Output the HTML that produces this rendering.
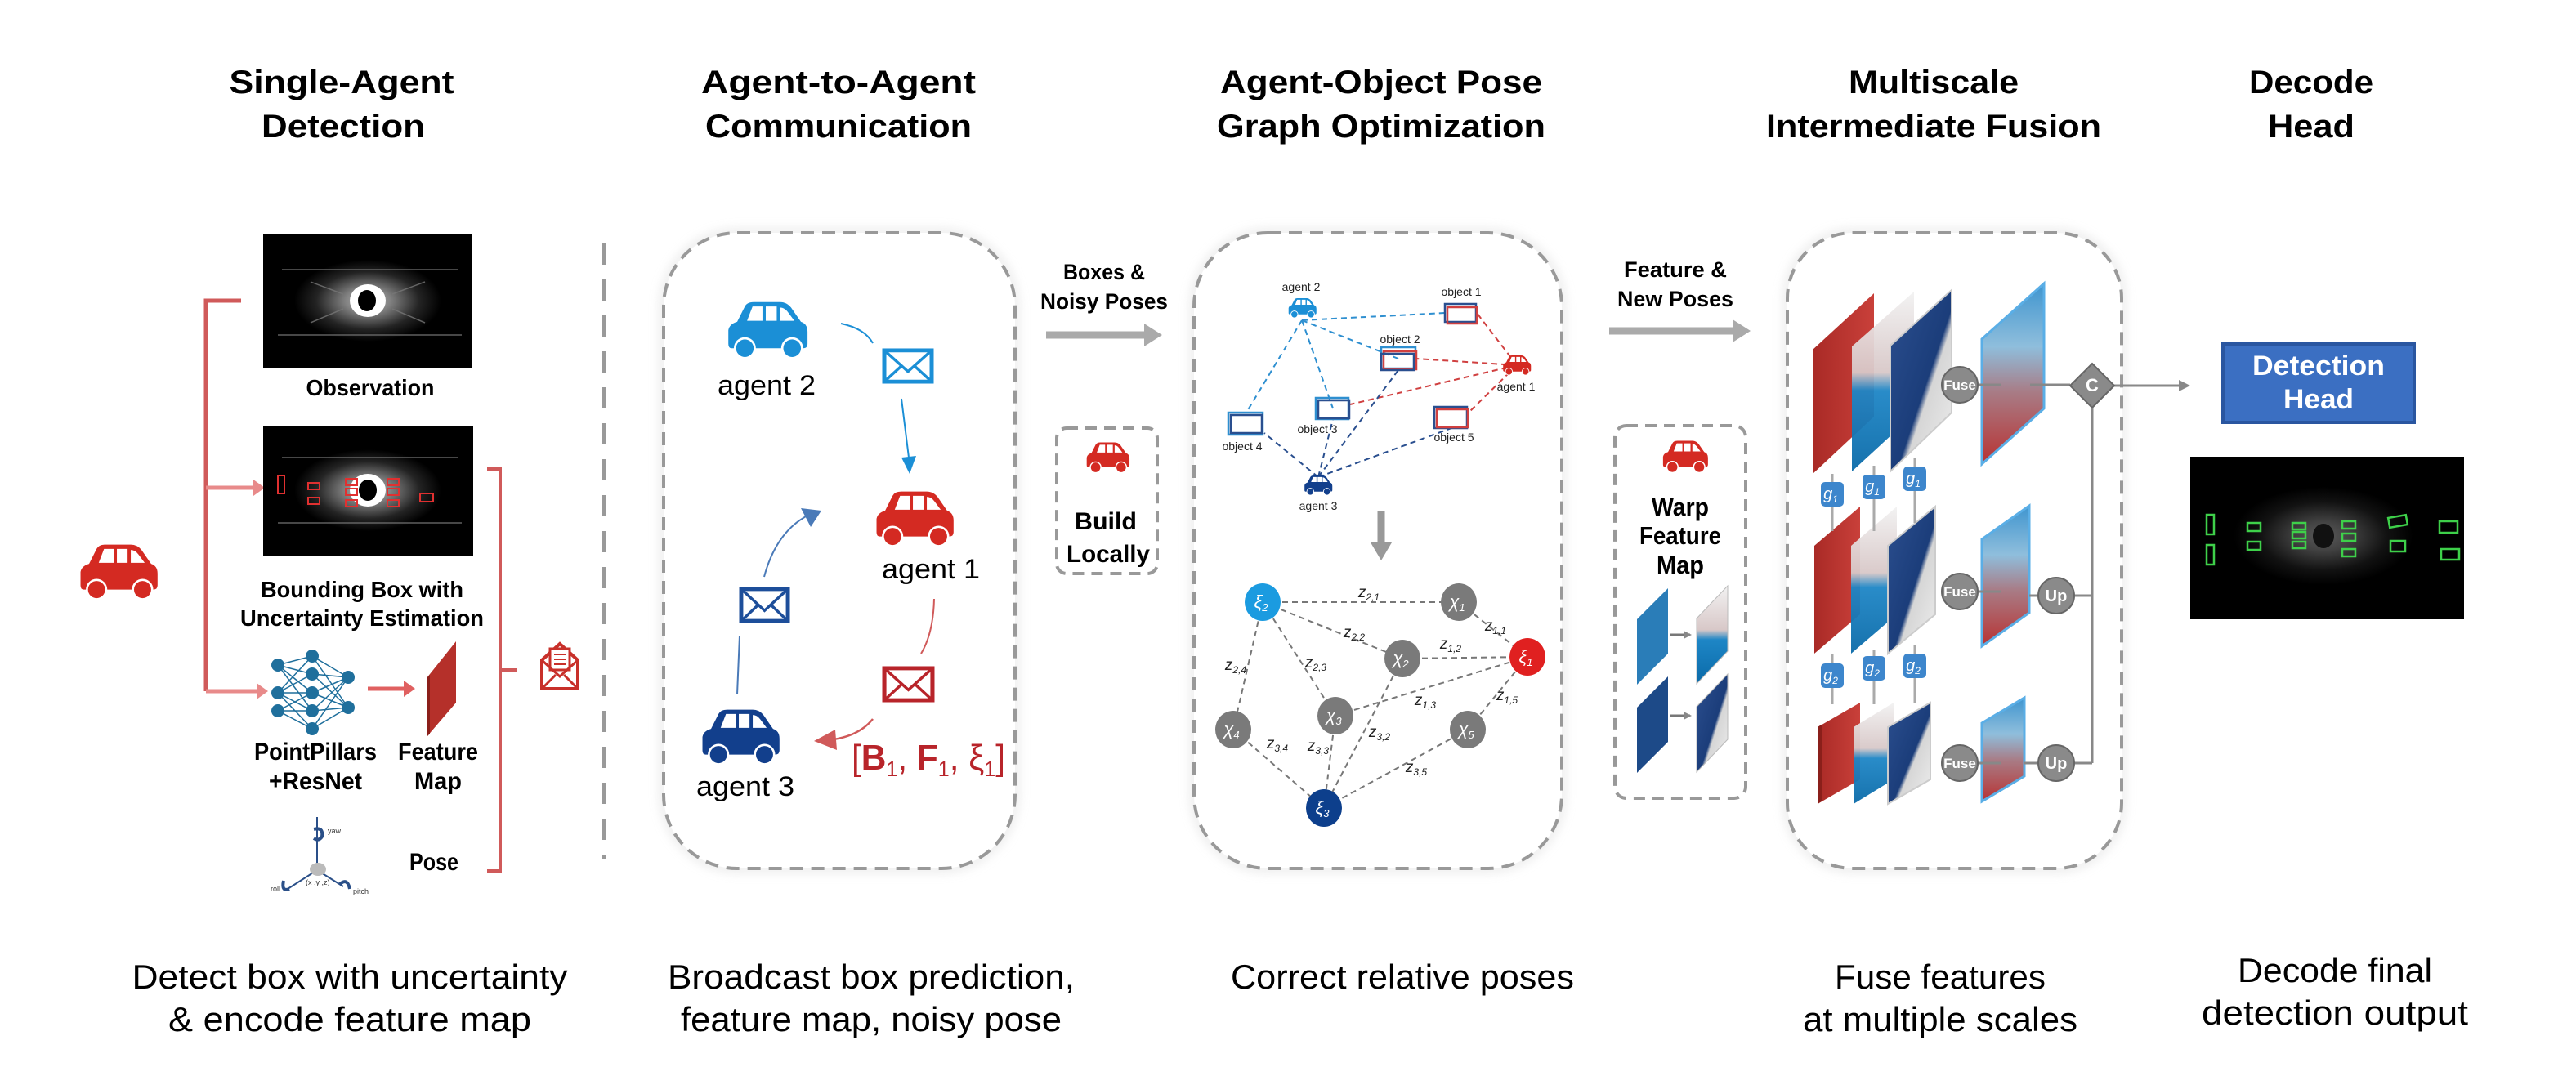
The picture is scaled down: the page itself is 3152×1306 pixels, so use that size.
<!DOCTYPE html>
<html><head><meta charset="utf-8">
<style>
html,body{margin:0;padding:0;background:#fff;}
svg{display:block;}
text{font-family:"Liberation Sans",sans-serif;}
</style></head>
<body>
<svg width="3152" height="1306" viewBox="0 0 3152 1306" xmlns="http://www.w3.org/2000/svg">
<defs>
<symbol id="car" viewBox="0 0 150 110">
 <path d="M4,80 L4,55 Q6,44 20,40 L34,12 Q38,4 50,4 L98,4 Q110,4 118,14 L136,40 Q148,44 148,58 L148,80 Q148,88 140,88 L10,88 Q4,88 4,80 Z" fill="currentColor"/>
 <path d="M38,38 L48,12 L66,12 L66,38 Z M72,12 L92,12 L92,38 L72,38 Z M98,14 Q106,14 112,22 L124,38 L98,38 Z" fill="#fff"/>
 <circle cx="34" cy="88" r="20" fill="#fff"/><circle cx="34" cy="88" r="16" fill="currentColor"/>
 <circle cx="120" cy="88" r="20" fill="#fff"/><circle cx="120" cy="88" r="16" fill="currentColor"/>
</symbol>
<symbol id="env" viewBox="0 0 64 46" preserveAspectRatio="none">
 <rect x="3" y="3" width="58" height="40" fill="#fff" stroke="currentColor" stroke-width="5"/>
 <path d="M3,3 L32,30 L61,3 M3,43 L25,22 M61,43 L39,22" fill="none" stroke="currentColor" stroke-width="3.5"/>
</symbol>
<marker id="ag" markerWidth="10" markerHeight="10" refX="8" refY="5" orient="auto" markerUnits="userSpaceOnUse"><path d="M0,0 L10,5 L0,10 Z" fill="#888"/></marker>
<linearGradient id="redg" x1="0" y1="0" x2="1" y2="0"><stop offset="0" stop-color="#a92a26"/><stop offset="1" stop-color="#c9403a"/></linearGradient>
<linearGradient id="whiteg" x1="0" y1="0" x2="0" y2="1"><stop offset="0" stop-color="#f2f2f2"/><stop offset="0.45" stop-color="#d8c8c8"/><stop offset="0.55" stop-color="#1e86c6"/><stop offset="1" stop-color="#0a6aa8"/></linearGradient>
<linearGradient id="blueg" x1="0" y1="0" x2="1" y2="1"><stop offset="0" stop-color="#2c4f8f"/><stop offset="0.55" stop-color="#1b3d7a"/><stop offset="0.6" stop-color="#d6d6d6"/><stop offset="1" stop-color="#eeeeee"/></linearGradient>
<linearGradient id="outg" x1="0" y1="0" x2="0" y2="1"><stop offset="0" stop-color="#3f95cf"/><stop offset="0.35" stop-color="#8fbedc"/><stop offset="0.6" stop-color="#a87c86"/><stop offset="1" stop-color="#b83232"/></linearGradient>
<radialGradient id="lid" cx="0.5" cy="0.5" r="0.5"><stop offset="0" stop-color="#fff"/><stop offset="0.3" stop-color="#bbb"/><stop offset="0.7" stop-color="#333"/><stop offset="1" stop-color="#000"/></radialGradient>
<filter id="sh" x="-5%" y="-5%" width="110%" height="110%"><feGaussianBlur stdDeviation="6"/></filter>
</defs>

<g font-size="40" font-weight="bold" text-anchor="middle" fill="#000">
 <text x="418" y="114" textLength="275" lengthAdjust="spacingAndGlyphs">Single-Agent</text>
 <text x="420" y="168" textLength="200" lengthAdjust="spacingAndGlyphs">Detection</text>
 <text x="1026" y="114" textLength="336" lengthAdjust="spacingAndGlyphs">Agent-to-Agent</text>
 <text x="1026" y="168" textLength="326" lengthAdjust="spacingAndGlyphs">Communication</text>
 <text x="1690" y="114" textLength="394" lengthAdjust="spacingAndGlyphs">Agent-Object Pose</text>
 <text x="1690" y="168" textLength="402" lengthAdjust="spacingAndGlyphs">Graph Optimization</text>
 <text x="2366" y="114" textLength="208" lengthAdjust="spacingAndGlyphs">Multiscale</text>
 <text x="2366" y="168" textLength="410" lengthAdjust="spacingAndGlyphs">Intermediate Fusion</text>
 <text x="2828" y="114" textLength="152" lengthAdjust="spacingAndGlyphs">Decode</text>
 <text x="2828" y="168" textLength="106" lengthAdjust="spacingAndGlyphs">Head</text>
</g>

<g font-size="42" text-anchor="middle" fill="#000">
 <text x="428" y="1210" textLength="533" lengthAdjust="spacingAndGlyphs">Detect box with uncertainty</text>
 <text x="428" y="1262" textLength="444" lengthAdjust="spacingAndGlyphs">&amp; encode feature map</text>
 <text x="1066" y="1210" textLength="498" lengthAdjust="spacingAndGlyphs">Broadcast box prediction,</text>
 <text x="1066" y="1262" textLength="466" lengthAdjust="spacingAndGlyphs">feature map, noisy pose</text>
 <text x="1716" y="1210" textLength="420" lengthAdjust="spacingAndGlyphs">Correct relative poses</text>
 <text x="2374" y="1210" textLength="258" lengthAdjust="spacingAndGlyphs">Fuse features</text>
 <text x="2374" y="1262" textLength="336" lengthAdjust="spacingAndGlyphs">at multiple scales</text>
 <text x="2857" y="1202" textLength="238" lengthAdjust="spacingAndGlyphs">Decode final</text>
 <text x="2857" y="1254" textLength="326" lengthAdjust="spacingAndGlyphs">detection output</text>
</g>

<!-- Section 1 -->
<use href="#car" x="84" y="664" width="122" height="72" color="#d42a22"/>
<path d="M295,368 L252,368 L252,846" fill="none" stroke="#d05a5a" stroke-width="5"/>
<path d="M252,597 L312,597" stroke="#e88a8a" stroke-width="5"/>
<path d="M310,587 L324,597 L310,607 Z" fill="#e88a8a"/>
<path d="M252,846 L316,846" stroke="#e88a8a" stroke-width="5"/>
<path d="M314,836 L328,846 L314,856 Z" fill="#e88a8a"/>
<rect x="322" y="286" width="255" height="164" fill="#000"/>
<ellipse cx="450" cy="368" rx="90" ry="50" fill="url(#lid)" opacity="0.7"/>
<g stroke="#777" stroke-width="1.5" fill="none" opacity="0.8">
 <path d="M345,330 L560,330 M340,410 L565,410 M380,345 L420,360 M520,345 L480,360 M380,395 L420,378 M520,395 L480,378"/>
</g>
<ellipse cx="450" cy="368" rx="22" ry="20" fill="#fff"/><ellipse cx="449" cy="368" rx="11" ry="13" fill="#000"/>
<text x="453" y="484" font-size="28" font-weight="bold" text-anchor="middle" textLength="157" lengthAdjust="spacingAndGlyphs">Observation</text>
<rect x="322" y="521" width="257" height="159" fill="#000"/>
<ellipse cx="450" cy="600" rx="90" ry="50" fill="url(#lid)" opacity="0.7"/>
<g stroke="#777" stroke-width="1.5" fill="none" opacity="0.8"><path d="M345,560 L560,560 M340,640 L565,640"/></g>
<ellipse cx="450" cy="600" rx="22" ry="20" fill="#fff"/><ellipse cx="450" cy="600" rx="11" ry="13" fill="#000"/>
<g fill="none" stroke="#e03030" stroke-width="2">
 <rect x="340" y="582" width="8" height="22"/><rect x="377" y="591" width="14" height="8"/><rect x="377" y="609" width="14" height="8"/>
 <rect x="423" y="586" width="14" height="8"/><rect x="423" y="598" width="14" height="8"/><rect x="423" y="612" width="14" height="8"/>
 <rect x="474" y="586" width="14" height="8"/><rect x="474" y="598" width="14" height="8"/><rect x="474" y="612" width="14" height="8"/>
 <rect x="514" y="604" width="16" height="10"/>
</g>
<g font-size="28" font-weight="bold" text-anchor="middle">
 <text x="443" y="731" textLength="248" lengthAdjust="spacingAndGlyphs">Bounding Box with</text>
 <text x="443" y="766" textLength="298" lengthAdjust="spacingAndGlyphs">Uncertainty Estimation</text>
</g>
<g stroke="#1f6f9c" stroke-width="1.5">
 <path d="M340,814 L382,803 M340,814 L382,825 M340,814 L382,848 M340,848 L382,803 M340,848 L382,825 M340,848 L382,848 M340,848 L382,870 M340,870 L382,848 M340,870 L382,870 M340,870 L382,892 M340,814 L382,870 M340,848 L382,892
 M382,803 L426,829 M382,825 L426,829 M382,848 L426,829 M382,870 L426,829 M382,825 L426,866 M382,848 L426,866 M382,870 L426,866 M382,892 L426,866 M382,803 L426,866 M382,892 L426,829"/>
</g>
<g fill="#1f6f9c">
 <circle cx="340" cy="814" r="8"/><circle cx="340" cy="848" r="8"/><circle cx="340" cy="870" r="8"/>
 <circle cx="382" cy="803" r="8"/><circle cx="382" cy="825" r="8"/><circle cx="382" cy="848" r="8"/><circle cx="382" cy="870" r="8"/><circle cx="382" cy="892" r="8"/>
 <circle cx="426" cy="829" r="8"/><circle cx="426" cy="866" r="8"/>
</g>
<path d="M450,843 L496,843" stroke="#e06060" stroke-width="5"/><path d="M494,833 L508,843 L494,853 Z" fill="#e06060"/>
<polygon points="522,830 558,785 558,860 522,902" fill="#b5302a"/>
<polygon points="522,830 526,826 526,898 522,902" fill="#8a1f1a"/>
<g font-size="30" font-weight="bold" text-anchor="middle">
 <text x="386" y="930" textLength="150" lengthAdjust="spacingAndGlyphs">PointPillars</text>
 <text x="386" y="966" textLength="114" lengthAdjust="spacingAndGlyphs">+ResNet</text>
 <text x="536" y="930" textLength="98" lengthAdjust="spacingAndGlyphs">Feature</text>
 <text x="536" y="966" textLength="58" lengthAdjust="spacingAndGlyphs">Map</text>
 <text x="531" y="1065" textLength="60" lengthAdjust="spacingAndGlyphs">Pose</text>
</g>
<g stroke="#2a4f88" stroke-width="2" fill="none">
 <path d="M388,1000 L388,1065 M388,1065 L352,1088 M388,1065 L420,1085"/>
 <path d="M384,1015 Q396,1012 394,1024 Q390,1030 384,1026" stroke-width="4"/>
 <path d="M347,1078 Q344,1092 354,1088" stroke-width="4"/>
 <path d="M416,1082 Q425,1074 428,1088" stroke-width="4"/>
</g>
<ellipse cx="389" cy="1064" rx="10" ry="8" fill="#bbb"/>
<g font-size="9" fill="#333"><text x="401" y="1020">yaw</text><text x="374" y="1083">(x ,y ,z)</text><text x="331" y="1091">roll</text><text x="432" y="1094">pitch</text></g>
<path d="M596,574 L612,574 L612,1066 L596,1066 M612,820 L632,820" fill="none" stroke="#d05a5a" stroke-width="4"/>
<g>
 <path d="M663,808 L685,788 L707,808 L707,843 L663,843 Z" fill="#fff" stroke="#c8302a" stroke-width="4"/>
 <rect x="673" y="794" width="24" height="26" fill="#fff" stroke="#c8302a" stroke-width="3"/>
 <path d="M678,801 L692,801 M678,807 L692,807 M678,813 L692,813" stroke="#c8302a" stroke-width="2"/>
 <path d="M663,808 L685,828 L707,808 M663,843 L680,826 M707,843 L690,826" fill="none" stroke="#c8302a" stroke-width="3"/>
</g>
<line x1="739" y1="298" x2="739" y2="1052" stroke="#999" stroke-width="5" stroke-dasharray="26,18"/>

<!-- Section 2 -->
<rect x="812" y="285" width="430" height="778" rx="90" fill="#fff" stroke="#ddd" stroke-width="10" filter="url(#sh)" opacity="0.6"/>
<rect x="812" y="285" width="430" height="778" rx="90" fill="#fff" stroke="#999" stroke-width="4" stroke-dasharray="16,10"/>
<use href="#car" x="866" y="367" width="146" height="74" color="#1b8fd6"/>
<text x="938" y="483" font-size="34" text-anchor="middle" textLength="120" lengthAdjust="spacingAndGlyphs">agent 2</text>
<use href="#env" x="1079" y="426" width="64" height="44" color="#1b8fd6"/>
<path d="M1029,396 Q1058,402 1068,420" fill="none" stroke="#1b8fd6" stroke-width="2"/>
<path d="M1103,488 L1112,560" fill="none" stroke="#1b8fd6" stroke-width="2"/>
<path d="M1103,560 L1113,580 L1121,558 Z" fill="#1b8fd6"/>
<use href="#car" x="1046" y="599" width="146" height="72" color="#d42a22"/>
<text x="1139" y="708" font-size="34" text-anchor="middle" textLength="120" lengthAdjust="spacingAndGlyphs">agent 1</text>
<path d="M935,706 Q950,650 990,630" fill="none" stroke="#4a7ab8" stroke-width="2"/>
<path d="M980,622 L1005,625 L992,645 Z" fill="#4a7ab8"/>
<use href="#env" x="904" y="718" width="63" height="45" color="#1d4e9a"/>
<path d="M905,778 L902,850" fill="none" stroke="#4a7ab8" stroke-width="2"/>
<path d="M1143,733 Q1142,775 1127,800" fill="none" stroke="#d05a5a" stroke-width="2"/>
<use href="#env" x="1079" y="815" width="65" height="45" color="#b8242a"/>
<path d="M1068,880 Q1052,900 1020,905" fill="none" stroke="#d05a5a" stroke-width="2.5"/>
<path d="M1022,893 L996,907 L1024,918 Z" fill="#d05a5a"/>
<use href="#car" x="833" y="866" width="146" height="72" color="#123f8c"/>
<text x="912" y="974" font-size="34" text-anchor="middle" textLength="120" lengthAdjust="spacingAndGlyphs">agent 3</text>
<text x="1136" y="942" font-size="44" text-anchor="middle" fill="#b8242a" font-family="Liberation Serif,serif" textLength="188" lengthAdjust="spacingAndGlyphs">[<tspan font-weight="bold">B</tspan><tspan font-size="26" dy="8">1</tspan><tspan dy="-8">, </tspan><tspan font-weight="bold">F</tspan><tspan font-size="26" dy="8">1</tspan><tspan dy="-8">, ξ</tspan><tspan font-size="26" dy="8">1</tspan><tspan dy="-8">]</tspan></text>

<g font-size="27" font-weight="bold" text-anchor="middle">
 <text x="1351" y="342" textLength="100" lengthAdjust="spacingAndGlyphs">Boxes &amp;</text>
 <text x="1351" y="378" textLength="156" lengthAdjust="spacingAndGlyphs">Noisy Poses</text>
</g>
<path d="M1280,410 L1404,410" stroke="#aaa" stroke-width="9"/><path d="M1400,396 L1422,410 L1400,424 Z" fill="#aaa"/>
<rect x="1293" y="524" width="123" height="178" rx="12" fill="#fff" stroke="#999" stroke-width="4" stroke-dasharray="14,9"/>
<use href="#car" x="1316" y="540" width="79" height="40" color="#d42a22"/>
<g font-size="30" font-weight="bold" text-anchor="middle">
 <text x="1353" y="648" textLength="76" lengthAdjust="spacingAndGlyphs">Build</text>
 <text x="1356" y="688" textLength="102" lengthAdjust="spacingAndGlyphs">Locally</text>
</g>

<!-- Section 3 -->
<rect x="1461" y="285" width="450" height="778" rx="90" fill="#fff" stroke="#ddd" stroke-width="10" filter="url(#sh)" opacity="0.6"/>
<rect x="1461" y="285" width="450" height="778" rx="90" fill="#fff" stroke="#999" stroke-width="4" stroke-dasharray="16,10"/>
<g fill="none" stroke-width="2" stroke-dasharray="7,5">
 <g stroke="#2e8fd0"><path d="M1593,392 L1768,383 M1593,392 L1711,439 M1593,392 L1631,500 M1593,392 L1525,505"/></g>
 <g stroke="#d04040"><path d="M1856,447 L1807,383 M1856,447 L1733,439 M1856,447 L1652,495 M1856,447 L1797,505"/></g>
 <g stroke="#2a4f8f"><path d="M1613,584 L1547,530 M1613,584 L1631,513 M1613,584 L1711,453 M1613,584 L1776,524"/></g>
</g>
<g fill="none" stroke-width="2.5">
 <rect x="1768" y="372" width="38" height="22" stroke="#2a4f8f"/><rect x="1771" y="376" width="36" height="20" stroke="#d04040"/>
 <rect x="1690" y="425" width="42" height="26" stroke="#2e8fd0"/><rect x="1693" y="430" width="40" height="22" stroke="#d04040"/><rect x="1690" y="433" width="40" height="20" stroke="#2a4f8f"/>
 <rect x="1610" y="487" width="40" height="26" stroke="#2e8fd0"/><rect x="1613" y="490" width="38" height="22" stroke="#2a4f8f"/>
 <rect x="1503" y="505" width="42" height="27" stroke="#2e8fd0"/><rect x="1506" y="508" width="38" height="22" stroke="#2a4f8f"/>
 <rect x="1755" y="498" width="40" height="26" stroke="#2a4f8f"/><rect x="1758" y="501" width="38" height="22" stroke="#d04040"/>
</g>
<use href="#car" x="1567" y="364" width="53" height="26" color="#1b8fd6"/>
<use href="#car" x="1830" y="434" width="52" height="26" color="#d42a22"/>
<use href="#car" x="1586" y="581" width="54" height="26" color="#123f8c"/>
<g font-size="14" text-anchor="middle" fill="#222">
 <text x="1592" y="356">agent 2</text><text x="1788" y="362">object 1</text><text x="1713" y="420">object 2</text>
 <text x="1855" y="478">agent 1</text><text x="1612" y="530">object 3</text><text x="1520" y="551">object 4</text>
 <text x="1779" y="540">object 5</text><text x="1613" y="624">agent 3</text>
</g>
<path d="M1690,626 L1690,668" stroke="#999" stroke-width="9"/><path d="M1677,664 L1690,686 L1703,664 Z" fill="#999"/>
<g fill="none" stroke="#777" stroke-width="2" stroke-dasharray="7,5">
 <path d="M1545,737 L1785,737 M1545,737 L1716,806 M1545,737 L1634,876 M1545,737 L1509,893 M1785,737 L1869,804 M1716,806 L1869,804 M1634,876 L1869,804 M1869,804 L1796,893 M1509,893 L1620,989 M1634,876 L1620,989 M1716,806 L1620,989 M1796,893 L1620,989"/>
</g>
<g>
 <ellipse cx="1545" cy="737" rx="22" ry="23" fill="#1b9be0"/>
 <ellipse cx="1785" cy="737" rx="22" ry="23" fill="#7a7a7a"/>
 <ellipse cx="1716" cy="806" rx="22" ry="23" fill="#7a7a7a"/>
 <ellipse cx="1869" cy="804" rx="22" ry="23" fill="#e02020"/>
 <ellipse cx="1634" cy="876" rx="22" ry="23" fill="#7a7a7a"/>
 <ellipse cx="1509" cy="893" rx="22" ry="23" fill="#7a7a7a"/>
 <ellipse cx="1796" cy="893" rx="22" ry="23" fill="#7a7a7a"/>
 <ellipse cx="1620" cy="989" rx="22" ry="23" fill="#0d3f8c"/>
</g>
<g font-size="22" font-style="italic" fill="#fff" text-anchor="middle" font-family="Liberation Serif,serif">
 <text x="1543" y="744">ξ<tspan font-size="13" dy="4">2</tspan></text>
 <text x="1783" y="744">χ<tspan font-size="13" dy="4">1</tspan></text>
 <text x="1714" y="813">χ<tspan font-size="13" dy="4">2</tspan></text>
 <text x="1867" y="811">ξ<tspan font-size="13" dy="4">1</tspan></text>
 <text x="1632" y="883">χ<tspan font-size="13" dy="4">3</tspan></text>
 <text x="1507" y="900">χ<tspan font-size="13" dy="4">4</tspan></text>
 <text x="1794" y="900">χ<tspan font-size="13" dy="4">5</tspan></text>
 <text x="1618" y="996">ξ<tspan font-size="13" dy="4">3</tspan></text>
</g>
<g font-size="19" font-style="italic" fill="#222" text-anchor="middle" font-family="Liberation Serif,serif">
 <text x="1675" y="731">z<tspan font-size="12" dy="4">2,1</tspan></text>
 <text x="1830" y="772">z<tspan font-size="12" dy="4">1,1</tspan></text>
 <text x="1657" y="780">z<tspan font-size="12" dy="4">2,2</tspan></text>
 <text x="1775" y="794">z<tspan font-size="12" dy="4">1,2</tspan></text>
 <text x="1512" y="820">z<tspan font-size="12" dy="4">2,4</tspan></text>
 <text x="1610" y="817">z<tspan font-size="12" dy="4">2,3</tspan></text>
 <text x="1744" y="863">z<tspan font-size="12" dy="4">1,3</tspan></text>
 <text x="1844" y="857">z<tspan font-size="12" dy="4">1,5</tspan></text>
 <text x="1688" y="902">z<tspan font-size="12" dy="4">3,2</tspan></text>
 <text x="1563" y="916">z<tspan font-size="12" dy="4">3,4</tspan></text>
 <text x="1613" y="919">z<tspan font-size="12" dy="4">3,3</tspan></text>
 <text x="1733" y="945">z<tspan font-size="12" dy="4">3,5</tspan></text>
</g>

<g font-size="27" font-weight="bold" text-anchor="middle">
 <text x="2050" y="339" textLength="126" lengthAdjust="spacingAndGlyphs">Feature &amp;</text>
 <text x="2050" y="375" textLength="142" lengthAdjust="spacingAndGlyphs">New Poses</text>
</g>
<path d="M1969,405 L2124,405" stroke="#aaa" stroke-width="9"/><path d="M2120,391 L2142,405 L2120,419 Z" fill="#aaa"/>
<rect x="1976" y="521" width="160" height="456" rx="14" fill="#fff" stroke="#999" stroke-width="4" stroke-dasharray="14,9"/>
<use href="#car" x="2019" y="538" width="86" height="42" color="#d42a22"/>
<g font-size="31" font-weight="bold" text-anchor="middle">
 <text x="2056" y="631" textLength="70" lengthAdjust="spacingAndGlyphs">Warp</text>
 <text x="2056" y="666" textLength="100" lengthAdjust="spacingAndGlyphs">Feature</text>
 <text x="2056" y="702" textLength="58" lengthAdjust="spacingAndGlyphs">Map</text>
</g>
<polygon points="2003,758 2041,720 2041,800 2003,838" fill="#2a7db8"/>
<polygon points="2076,757 2114,717 2114,797 2076,837" fill="url(#whiteg)" stroke="#bbb"/>
<polygon points="2003,946 2041,908 2041,828 2003,866" fill="#1d4a88"/>
<polygon points="2076,945 2114,905 2114,825 2076,865" fill="url(#blueg)" stroke="#bbb"/>
<path d="M2043,777 L2068,777" stroke="#777" stroke-width="3" marker-end="url(#ag)"/>
<path d="M2043,876 L2068,876" stroke="#777" stroke-width="3" marker-end="url(#ag)"/>

<!-- Section 4 -->
<rect x="2187" y="285" width="409" height="778" rx="80" fill="#fff" stroke="#ddd" stroke-width="10" filter="url(#sh)" opacity="0.6"/>
<rect x="2187" y="285" width="409" height="778" rx="80" fill="#fff" stroke="#999" stroke-width="4" stroke-dasharray="16,10"/>
<polygon points="2218,428 2293,359 2293,510 2218,580" fill="url(#redg)"/>
<polygon points="2266,424 2342,357 2342,507 2266,577" fill="url(#whiteg)" opacity="0.95"/>
<polygon points="2313,423 2388,355 2388,505 2313,577" fill="url(#blueg)" stroke="#ccc" stroke-width="2"/>
<polygon points="2425,415 2501,347 2501,500 2425,568" fill="url(#outg)" stroke="#5aaee6" stroke-width="3"/>
<polygon points="2220,668 2276,620 2276,752 2220,800" fill="url(#redg)"/>
<polygon points="2265,668 2321,620 2321,752 2265,800" fill="url(#whiteg)" opacity="0.95"/>
<polygon points="2310,668 2368,620 2368,752 2310,800" fill="url(#blueg)" stroke="#ccc" stroke-width="2"/>
<polygon points="2425,660 2483,619 2483,750 2425,791" fill="url(#outg)" stroke="#5aaee6" stroke-width="3"/>
<polygon points="2224,890 2276,860 2276,954 2224,984" fill="url(#redg)"/>
<polygon points="2224,890 2230,886 2230,980 2224,984" fill="#8a1f1a"/>
<polygon points="2268,890 2317,860 2317,954 2268,984" fill="url(#whiteg)" opacity="0.95"/>
<polygon points="2310,890 2362,860 2362,954 2310,984" fill="url(#blueg)" stroke="#ccc" stroke-width="2"/>
<polygon points="2425,885 2477,854 2477,950 2425,981" fill="url(#outg)" stroke="#5aaee6" stroke-width="3"/>
<g stroke="#aaa" stroke-width="3">
 <path d="M2242,580 L2242,650 M2293,570 L2293,650 M2343,560 L2343,640 M2242,800 L2242,862 M2293,795 L2293,862 M2343,790 L2343,860"/>
</g>
<g fill="#3d86cc">
 <rect x="2228" y="590" width="28" height="30" rx="5"/><rect x="2279" y="581" width="28" height="30" rx="5"/><rect x="2329" y="571" width="28" height="30" rx="5"/>
 <rect x="2228" y="812" width="28" height="30" rx="5"/><rect x="2279" y="803" width="28" height="30" rx="5"/><rect x="2329" y="800" width="28" height="30" rx="5"/>
</g>
<g font-size="20" font-style="italic" fill="#fff" text-anchor="middle" font-family="Liberation Serif,serif">
 <text x="2240" y="611">g<tspan font-size="12" dy="4">1</tspan></text><text x="2291" y="602">g<tspan font-size="12" dy="4">1</tspan></text><text x="2341" y="592">g<tspan font-size="12" dy="4">1</tspan></text>
 <text x="2240" y="833">g<tspan font-size="12" dy="4">2</tspan></text><text x="2291" y="824">g<tspan font-size="12" dy="4">2</tspan></text><text x="2341" y="821">g<tspan font-size="12" dy="4">2</tspan></text>
</g>
<g stroke="#888" stroke-width="3" fill="none">
 <path d="M2420,471 L2448,471 M2484,471 L2533,471 M2587,472 L2670,472 M2560,499 L2560,934"/>
 <path d="M2420,724 L2448,724 M2483,729 L2494,729 M2538,729 L2560,729"/>
 <path d="M2420,934 L2448,934 M2477,934 L2494,934 M2538,934 L2560,934"/>
</g>
<path d="M2666,465 L2680,472 L2666,479 Z" fill="#888"/>
<g fill="#8a8a8a" stroke="#666" stroke-width="2">
 <circle cx="2398" cy="471" r="22"/><circle cx="2398" cy="724" r="22"/><circle cx="2398" cy="934" r="22"/>
 <circle cx="2516" cy="729" r="22"/><circle cx="2516" cy="934" r="22"/>
 <polygon points="2560,445 2587,472 2560,499 2533,472"/>
</g>
<g font-size="17" font-weight="bold" fill="#fff" text-anchor="middle">
 <text x="2398" y="477">Fuse</text><text x="2398" y="730">Fuse</text><text x="2398" y="940">Fuse</text>
 <text x="2516" y="736" font-size="20">Up</text><text x="2516" y="941" font-size="20">Up</text>
 <text x="2560" y="479" font-size="22">C</text>
</g>

<!-- Section 5 -->
<rect x="2720" y="421" width="234" height="96" fill="#3b6fc2" stroke="#2a56a0" stroke-width="4"/>
<g font-size="34" font-weight="bold" fill="#fff" text-anchor="middle">
 <text x="2837" y="459" textLength="162" lengthAdjust="spacingAndGlyphs">Detection</text>
 <text x="2837" y="500" textLength="86" lengthAdjust="spacingAndGlyphs">Head</text>
</g>
<rect x="2680" y="559" width="335" height="199" fill="#000"/>
<ellipse cx="2843" cy="656" rx="110" ry="60" fill="url(#lid)" opacity="0.35"/>
<ellipse cx="2843" cy="656" rx="13" ry="15" fill="#111"/>
<g fill="none" stroke="#3ed04a" stroke-width="2.5">
 <rect x="2700" y="630" width="9" height="24"/><rect x="2700" y="667" width="9" height="24"/>
 <rect x="2750" y="640" width="16" height="10"/><rect x="2750" y="663" width="16" height="10"/>
 <rect x="2805" y="640" width="16" height="8"/><rect x="2805" y="651" width="16" height="8"/><rect x="2805" y="663" width="16" height="8"/>
 <rect x="2866" y="638" width="16" height="9"/><rect x="2866" y="653" width="16" height="9"/><rect x="2866" y="672" width="16" height="9"/>
 <rect x="2923" y="632" width="22" height="12" transform="rotate(-10 2934 638)"/><rect x="2925" y="662" width="18" height="13"/>
 <rect x="2985" y="638" width="22" height="14"/><rect x="2987" y="672" width="22" height="13"/>
</g>
</svg>
</body></html>
